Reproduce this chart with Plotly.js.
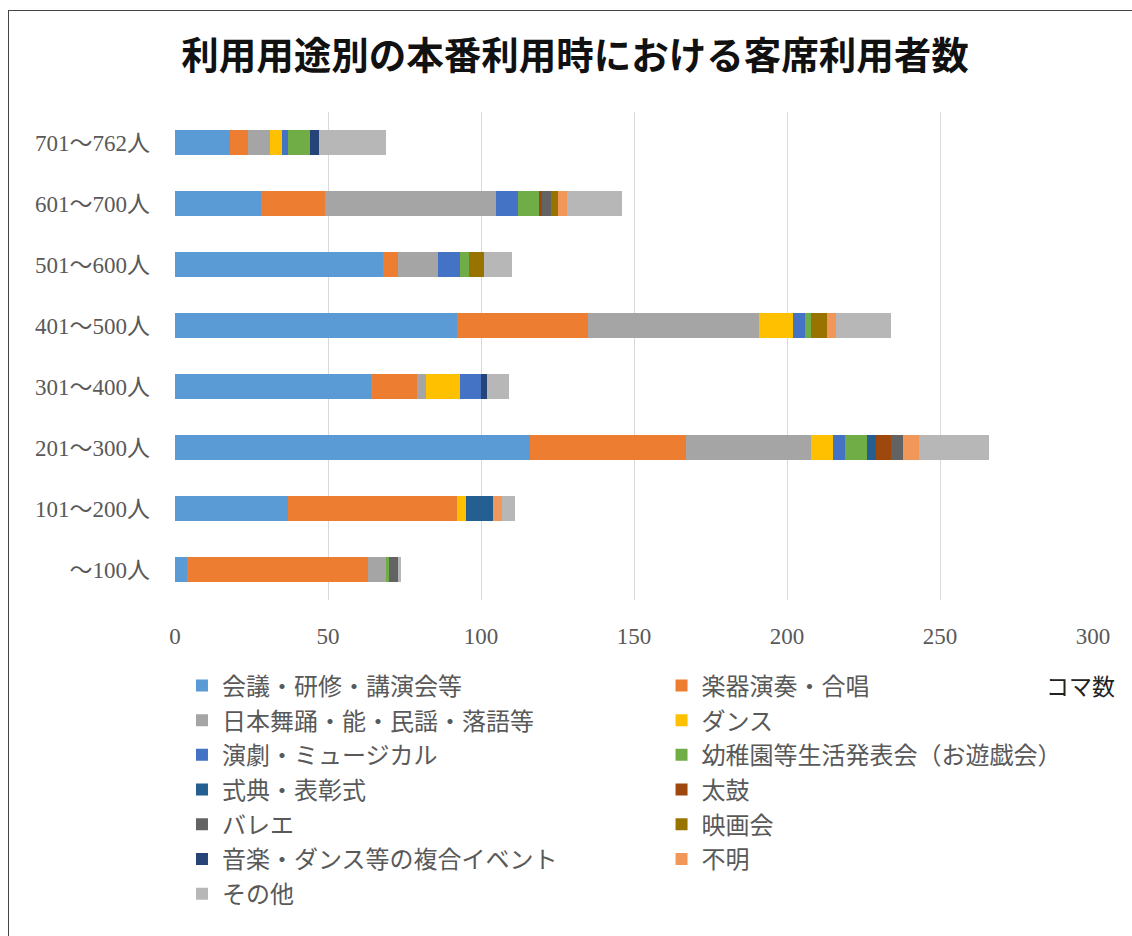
<!DOCTYPE html>
<html>
<head>
<meta charset="utf-8">
<script src="https://cdn.plot.ly/plotly-3.0.1.min.js"></script>
<style>
html, body { margin: 0; padding: 0; background: #fff; }
#frame { position: absolute; left: 8px; top: 10px; width: 1130px; height: 930px; border-left: 1.5px solid #444; border-top: 1.5px solid #444; }
#chart { position: absolute; left: 0; top: 0; width: 1132px; height: 936px; }
</style>
</head>
<body>
<div id="frame"></div>
<div id="chart"></div>
<script>
// Categories (bottom to top)
const categories = ['～100人', '101～200人', '201～300人', '301～400人', '401～500人', '501～600人', '601～700人', '701～762人'];

// Series values (same order as categories)
const kaigi      = [4, 37, 116, 64, 92, 68, 28, 18];   // 会議・研修・講演会等
const gakki      = [59, 55, 51, 15, 43, 5, 21, 6];     // 楽器演奏・合唱
const nihonbuyo  = [6, 0, 41, 3, 56, 13, 56, 7];       // 日本舞踊・能・民謡・落語等
const dance      = [0, 3, 7, 11, 11, 0, 0, 4];         // ダンス
const engeki     = [0, 0, 4, 7, 4, 7, 7, 2];           // 演劇・ミュージカル
const youchien   = [1, 0, 7, 0, 2, 3, 7, 7];           // 幼稚園等生活発表会（お遊戯会）
const shikiten   = [0, 9, 3, 0, 0, 0, 0, 0];           // 式典・表彰式
const taiko      = [0, 0, 5, 0, 0, 0, 1, 0];           // 太鼓
const ballet     = [3, 0, 4, 0, 0, 0, 3, 0];           // バレエ
const eigakai    = [0, 0, 0, 0, 5, 5, 2, 0];           // 映画会
const fukugou    = [0, 0, 0, 2, 0, 0, 0, 3];           // 音楽・ダンス等の複合イベント
const fumei      = [0, 3, 5, 0, 3, 0, 3, 0];           // 不明
const sonota     = [1, 4, 23, 7, 18, 9, 18, 22];       // その他

const seriesNames = ['会議・研修・講演会等', '楽器演奏・合唱', '日本舞踊・能・民謡・落語等', 'ダンス', '演劇・ミュージカル', '幼稚園等生活発表会（お遊戯会）', '式典・表彰式', '太鼓', 'バレエ', '映画会', '音楽・ダンス等の複合イベント', '不明', 'その他'];
const seriesValues = [kaigi, gakki, nihonbuyo, dance, engeki, youchien, shikiten, taiko, ballet, eigakai, fukugou, fumei, sonota];
const seriesColors = ['#5B9BD5', '#ED7D31', '#A5A5A5', '#FFC000', '#4472C4', '#70AD47', '#255E91', '#9E480E', '#636363', '#997300', '#264478', '#F1975A', '#B7B7B7'];

const xTicks = [0, 50, 100, 150, 200, 250, 300];

const traces = seriesNames.map((name, i) => ({
  type: 'bar',
  orientation: 'h',
  name: name,
  x: seriesValues[i],
  y: categories,
  marker: { color: seriesColors[i], line: { width: 0 } },
  legend: (i % 2 === 0) ? 'legend' : 'legend2',
  legendgroup: 'g' + i,
  hoverinfo: 'x+name'
}));

const tickFont = { family: '"Liberation Serif", "Noto Sans CJK JP", serif', size: 23, color: '#595959' };
const legendFont = { family: '"Liberation Serif", "Noto Sans CJK JP", serif', size: 24, color: '#595959' };

const layout = {
  width: 1132,
  height: 936,
  paper_bgcolor: 'rgba(0,0,0,0)',
  plot_bgcolor: 'rgba(0,0,0,0)',
  margin: { l: 175, r: 39, t: 112, b: 336 },
  barmode: 'stack',
  bargap: 0.6,
  title: {
    text: '<b>利用用途別の本番利用時における客席利用者数</b>',
    font: { family: '"Noto Sans CJK JP", sans-serif', size: 37.5, color: '#111' },
    x: 0.508, xanchor: 'center', y: 0.94, yanchor: 'middle'
  },
  xaxis: {
    range: [0, 300],
    tickvals: xTicks,
    ticktext: xTicks.map(String),
    showgrid: true,
    gridcolor: '#D9D9D9',
    gridwidth: 1,
    zeroline: false,
    showline: false,
    ticks: '',
    tickfont: tickFont,
    ticklabelstandoff: 20
  },
  yaxis: {
    type: 'category',
    showgrid: false,
    showline: false,
    zeroline: false,
    ticks: '',
    tickfont: tickFont,
    ticklabelstandoff: 24
  },
  legend: {
    x: 0.0076, xanchor: 'left', y: -0.1298, yanchor: 'top',
    orientation: 'v',
    traceorder: 'grouped',
    tracegroupgap: 0.5,
    font: legendFont,
    bgcolor: 'rgba(0,0,0,0)'
  },
  legend2: {
    x: 0.530, xanchor: 'left', y: -0.1298, yanchor: 'top',
    orientation: 'v',
    traceorder: 'grouped',
    tracegroupgap: 0.5,
    font: legendFont,
    bgcolor: 'rgba(0,0,0,0)'
  },
  annotations: [{
    text: 'コマ数',
    xref: 'paper', yref: 'paper',
    x: 1.026, xanchor: 'right',
    y: -0.175, yanchor: 'middle',
    showarrow: false,
    font: { family: '"Noto Sans CJK JP", sans-serif', size: 23, color: '#222' }
  }]
};

Plotly.newPlot('chart', traces, layout, { displayModeBar: false, staticPlot: true });
</script>
</body>
</html>
